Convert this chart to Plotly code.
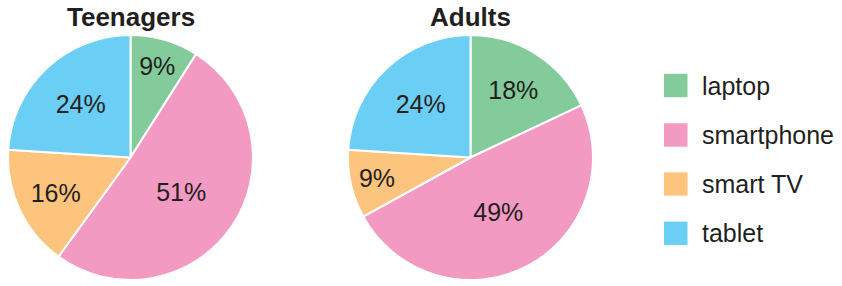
import plotly.graph_objects as go

categories = ["laptop", "smartphone", "smart TV", "tablet"]
teen_values = [9, 51, 16, 24]
adult_values = [18, 49, 9, 24]
group_titles = ["Teenagers", "Adults"]
colors = ["#84cb9b", "#f39ac3", "#fdc47e", "#6bcef5"]

W, H = 842, 286
FONT = "Liberation Sans, Arial, Helvetica, sans-serif"
TXT = "#231f20"

def px_x(v):
    return v / W

def px_y(v):
    return 1 - v / H

fig = go.Figure()
domains = [[px_x(8), px_x(253)], [px_x(348), px_x(593)]]
centers = [131, 470]
for vals, dom in zip([teen_values, adult_values], domains):
    fig.add_trace(go.Pie(
        labels=categories, values=vals,
        sort=False, direction="clockwise", rotation=0,
        marker=dict(colors=colors, line=dict(color="white", width=2)),
        texttemplate="%{value}%", textposition="inside",
        insidetextorientation="horizontal",
        textfont=dict(family=FONT, size=25, color=TXT),
        domain=dict(x=dom, y=[px_y(280), px_y(35)]),
        showlegend=False, hoverinfo="label+percent",
    ))

annotations = []
for t, cx in zip(group_titles, centers):
    annotations.append(dict(
        text=f"<b>{t}</b>", x=px_x(cx), y=px_y(17), xref="paper", yref="paper",
        xanchor="center", yanchor="middle", showarrow=False,
        font=dict(family=FONT, size=26, color=TXT)))

shapes = []
legend_y = [85.5, 135, 184, 233.3]
for cat, col, ly in zip(categories, colors, legend_y):
    shapes.append(dict(type="rect", xref="paper", yref="paper",
                       x0=px_x(664), x1=px_x(687.5), y0=px_y(ly - 11.7), y1=px_y(ly + 11.7),
                       fillcolor=col, line=dict(width=0)))
    annotations.append(dict(
        text=cat, x=px_x(700), y=px_y(ly), xref="paper", yref="paper",
        xanchor="left", yanchor="middle", showarrow=False,
        font=dict(family=FONT, size=25, color=TXT)))

fig.update_layout(
    width=W, height=H, margin=dict(l=0, r=0, t=0, b=0),
    paper_bgcolor="white", plot_bgcolor="white",
    annotations=annotations, shapes=shapes, showlegend=False,
)
fig.write_html("out.html", config={"displayModeBar": False},
               post_script="document.body.style.margin='0';document.body.style.overflow='hidden';")
